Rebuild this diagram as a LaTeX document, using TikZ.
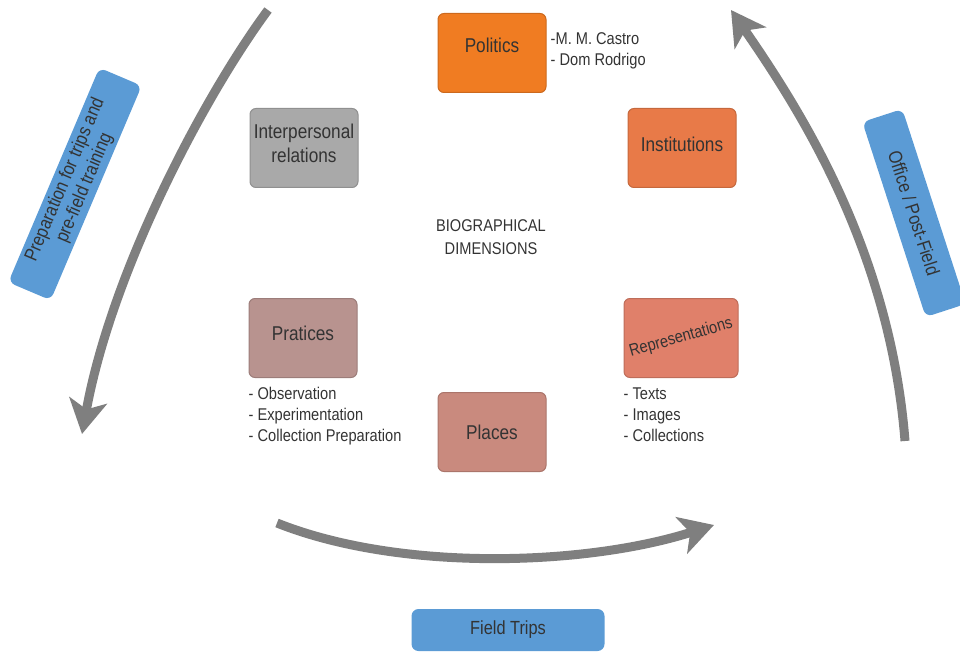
\documentclass[tikz,border=0pt]{standalone}
\usepackage{fontspec}
\setmainfont{Liberation Sans}[FakeStretch=0.86]
\usepackage{tikz}
\usetikzlibrary{arrows.meta,positioning}

\definecolor{txtgray}{HTML}{333333}
\definecolor{arrowgray}{HTML}{7F7F7F}
\definecolor{phaseblue}{HTML}{5B9BD5}
\definecolor{polorange}{HTML}{F07C22}
\definecolor{instorange}{HTML}{E87A48}
\definecolor{intergray}{HTML}{A9A9A9}
\definecolor{pratmauve}{HTML}{B8938F}
\definecolor{placerose}{HTML}{C98A7E}
\definecolor{reprsalmon}{HTML}{E0806A}

\tikzset{
  dimbox/.style={draw=#1!85!black, fill=#1, rounded corners=6pt, line width=1pt,
    minimum width=108pt, minimum height=79pt, align=center, text=txtgray,
    font=\fontsize{20}{24}\selectfont},
  notes/.style={align=left, inner sep=0pt, text=txtgray,
    font=\fontsize{17}{21}\selectfont},
  phasebox/.style={fill=phaseblue, rounded corners=7pt, align=center, text=txtgray,
    font=\fontsize{19}{21}\selectfont},
  cyclearrow/.style={draw=arrowgray, line width=9pt,
    -{Stealth[length=34pt,width=38pt,inset=9pt]}}
}

\begin{document}
\begin{tikzpicture}[x=1pt,y=-1pt]
\useasboundingbox (0,0) rectangle (960,652);

% Cycle arrows
\coordinate (prepstart) at (268,10);
\coordinate (prepend) at (82,434);
\coordinate (fieldstart) at (277,523);
\coordinate (fieldend) at (714,525);
\coordinate (officestart) at (905,441);
\coordinate (officeend) at (731,10);
\draw[cyclearrow] (prepstart) .. controls (205,95) and (112,270) .. (prepend);
\draw[cyclearrow] (fieldstart) .. controls (400,572) and (585,566) .. (fieldend);
\draw[cyclearrow] (officestart) .. controls (890,250) and (800,110) .. (officeend);

% Phases
\node[phasebox, minimum width=233pt, minimum height=46pt, rotate=67]
  (prep) at (75,184) {Preparation for trips and\\pre-field training};
\node[phasebox, minimum width=205pt, minimum height=42pt, rotate=-72]
  (office) at (914,213) {Office / Post-Field};
\node[phasebox, minimum width=193pt, minimum height=42pt]
  (field) at (508,630) {Field Trips};

% Dimensions
\node[align=center, text=txtgray, font=\fontsize{17}{23}\selectfont]
  (bio) at (491,237) {BIOGRAPHICAL\\DIMENSIONS};
\node[dimbox=polorange] (politics) at (492,53) {\raisebox{16pt}{Politics}};
\node[dimbox=instorange] (institutions) at (682,148) {\raisebox{8pt}{Institutions}};
\node[dimbox=intergray] (interpersonal) at (304,148) {Interpersonal\\relations\\[-14pt]};
\node[dimbox=pratmauve] (pratices) at (303,338) {\raisebox{10pt}{Pratices}};
\node[dimbox=placerose] (places) at (492,432) {Places};
\node[dimbox=reprsalmon, minimum width=114pt] (repr) at (681,338) {};
\node[rotate=16, text=txtgray, inner sep=0pt, font=\fontsize{17}{20}\selectfont]
  (reprtext) at (repr.center) {Representations};

% Notes
\node[notes, right=4pt of politics.north east, yshift=-19pt, anchor=north west]
  (polnotes) {-M. M. Castro\\- Dom Rodrigo};
\node[notes, below=9pt of pratices.south west, anchor=north west]
  (pratnotes) {- Observation\\- Experimentation\\- Collection Preparation};
\node[notes, below=10pt of repr.south west, anchor=north west]
  (reprnotes) {- Texts\\- Images\\- Collections};

\end{tikzpicture}
\end{document}
